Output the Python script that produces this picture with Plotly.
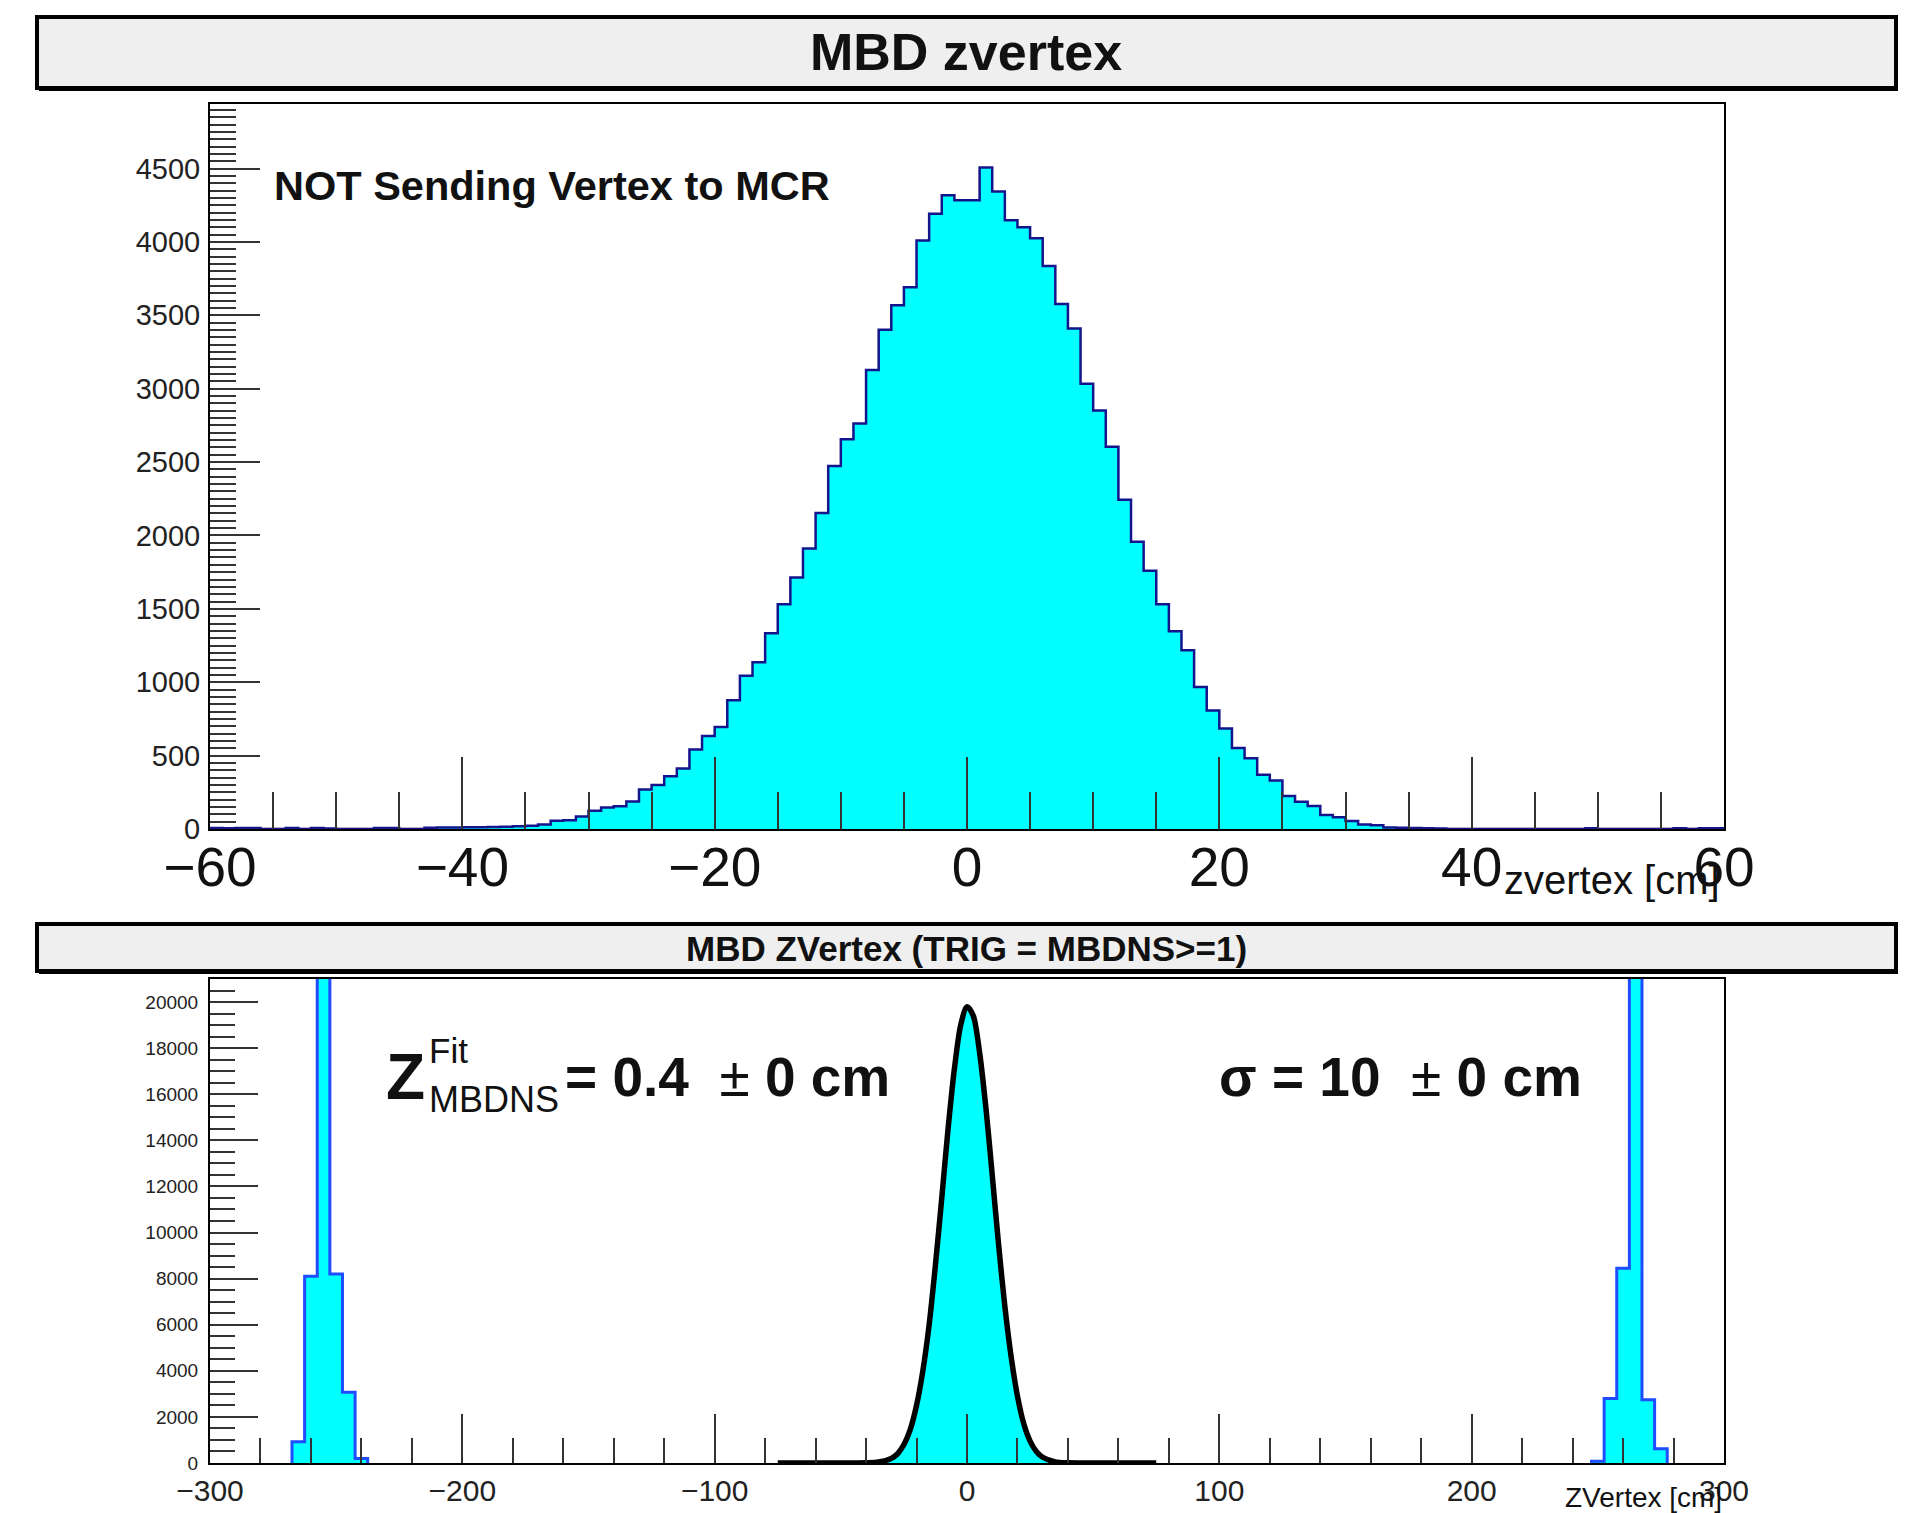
import numpy as np
import plotly.graph_objects as go

W, H = 1911, 1513

# ---------------- data ----------------
# Top panel: "MBD zvertex", 1 cm bins from -60 to 60 (bin low edges)
top_bin_low_edges = list(range(-60, 60))
top_counts = [
    6, 5, 6, 6, 0, 0, 6, 0, 6, 3,                         # -60 .. -51
    0, 0, 0, 6, 6, 0, 0, 8, 10, 10,                       # -50 .. -41
    12, 12, 14, 15, 18, 22, 30, 56, 60, 86,               # -40 .. -31
    125, 146, 155, 187, 269, 299, 360, 412, 542, 634,     # -30 .. -21
    695, 877, 1044, 1136, 1333, 1531, 1713, 1911, 2154, 2474,   # -20 .. -11
    2656, 2763, 3128, 3402, 3569, 3691, 4010, 4192, 4318, 4285, # -10 .. -1
    4285, 4508, 4344, 4148, 4101, 4025, 3836, 3578, 3411, 3033, # 0 .. 9
    2851, 2605, 2243, 1957, 1759, 1531, 1348, 1218, 968, 807,   # 10 .. 19
    685, 552, 482, 369, 330, 225, 185, 157, 96, 80,       # 20 .. 29
    55, 30, 25, 10, 8, 6, 5, 3, 0, 0,                     # 30 .. 39
    0, 0, 0, 0, 0, 0, 0, 0, 0, 5,                         # 40 .. 49
    0, 0, 0, 0, 0, 0, 5, 0, 5, 5,                         # 50 .. 59
]
top_bin_width = 1

# Bottom panel: "MBD ZVertex (TRIG = MBDNS>=1)", side peaks in 5 cm bins
bot_bin_width = 5
bot_left_centers = [-265, -260, -255, -250, -245, -240]
bot_left_counts = [920, 8100, 30000, 8200, 3070, 200]
bot_right_centers = [250, 255, 260, 265, 270, 275]
bot_right_counts = [80, 2800, 8450, 30000, 2740, 620]

# central peak (filled) and its Gaussian fit curve
fit_x = [-75, -60, -45, -40, -35, -30, -27.5, -25, -22.5, -20, -17.5, -15, -12.5, -10,
         -7.5, -5, -2.5, 0, 2.5, 5, 7.5, 10, 12.5, 15, 17.5, 20, 22.5, 25, 27.5,
         30, 35, 40, 45, 60, 75]
fit_y = [0, 0, 1, 6, 40, 200, 400, 800, 1450, 2500, 4000, 6000, 8600, 11500,
         14500, 17100, 19000, 19800, 19400, 17800, 15400, 12500, 9500, 6800, 4600,
         2900, 1700, 950, 500, 250, 50, 8, 1, 0, 0]

# ---------------- geometry helpers ----------------
def px_x(p):
    return p / W

def px_y(p):
    return 1 - p / H

FONT = "Liberation Sans, Arial, Helvetica, sans-serif"

fig = go.Figure()

# top histogram (step outline + fill)
t_edges = top_bin_low_edges + [top_bin_low_edges[-1] + top_bin_width]
t_vals = top_counts + [top_counts[-1]]
fig.add_trace(go.Scatter(
    x=t_edges, y=t_vals, mode="lines",
    line=dict(shape="hv", color="#14148c", width=2.5),
    fill="tozeroy", fillcolor="#00ffff",
    xaxis="x", yaxis="y", hoverinfo="skip", showlegend=False))

# bottom histogram side peaks (closed step outlines)
for cs, vs in ((bot_left_centers, bot_left_counts),
               (bot_right_centers, bot_right_counts)):
    c = np.array(cs, dtype=float)
    edges = list(c - bot_bin_width / 2) + [c[-1] + bot_bin_width / 2]
    xs = [edges[0]] + edges
    ys = [0] + list(vs) + [0]
    fig.add_trace(go.Scatter(
        x=xs, y=ys, mode="lines",
        line=dict(shape="hv", color="#1f4cff", width=3),
        fill="tozeroy", fillcolor="#00ffff",
        xaxis="x2", yaxis="y2", hoverinfo="skip", showlegend=False))

# central peak: filled, with the thick black fit curve on top
fig.add_trace(go.Scatter(
    x=fit_x, y=fit_y, mode="lines",
    line=dict(color="black", width=5.5, shape="spline", smoothing=0.8),
    fill="tozeroy", fillcolor="#00ffff",
    xaxis="x2", yaxis="y2", hoverinfo="skip", showlegend=False))

xdom = [px_x(210), px_x(1724)]
tick_col = "#333333"

common = dict(showgrid=False, zeroline=False, showline=True, linecolor="black",
              linewidth=2, mirror=True, ticks="inside", tickwidth=2, tickcolor=tick_col,
              automargin=False)

fig.update_layout(
    template="none",
    width=W, height=H, autosize=False,
    margin=dict(l=0, r=0, t=0, b=0, pad=0),
    paper_bgcolor="white", plot_bgcolor="white",
    font=dict(family=FONT, color="#111111"),
    showlegend=False,
    xaxis=dict(domain=xdom, anchor="y", range=[-60, 60], tickmode="linear", tick0=-60, dtick=20,
               ticklen=72, tickfont=dict(size=55, color="#111"), ticklabelstandoff=-11,
               minor=dict(dtick=5, tick0=0, ticklen=37, tickwidth=2, tickcolor=tick_col,
                          ticks="inside", showgrid=False), **common),
    yaxis=dict(domain=[px_y(829), px_y(104)], anchor="x", range=[0, 4940],
               tickmode="linear", tick0=0, dtick=500, ticklen=50, tickformat="d",
               tickfont=dict(size=29, color="#222"), ticklabelstandoff=2,
               minor=dict(dtick=50, tick0=0, ticklen=26, tickwidth=2, tickcolor=tick_col,
                          ticks="inside", showgrid=False), **common),
    xaxis2=dict(domain=xdom, anchor="y2", range=[-300, 300], tickmode="linear", tick0=-300, dtick=100,
                ticklen=49, tickfont=dict(size=30, color="#222"),
                minor=dict(dtick=20, tick0=0, ticklen=25, tickwidth=2, tickcolor=tick_col,
                           ticks="inside", showgrid=False), **common),
    yaxis2=dict(domain=[px_y(1463), px_y(979)], anchor="x2", range=[0, 21000],
                tickmode="linear", tick0=0, dtick=2000, ticklen=48, tickformat="d",
                tickfont=dict(size=19, color="#222"), ticklabelstandoff=6,
                minor=dict(dtick=500, tick0=0, ticklen=25, tickwidth=2, tickcolor=tick_col,
                           ticks="inside", showgrid=False), **common),
)

shapes = [
    # title box 1
    dict(type="rect", xref="paper", yref="paper", x0=px_x(37), x1=px_x(1896),
         y0=px_y(88), y1=px_y(17), fillcolor="#efefef", line=dict(color="black", width=4), layer="below"),
    dict(type="line", xref="paper", yref="paper", x0=px_x(39), x1=px_x(1898),
         y0=px_y(89), y1=px_y(89), line=dict(color="black", width=4)),
    # title box 2
    dict(type="rect", xref="paper", yref="paper", x0=px_x(37), x1=px_x(1896),
         y0=px_y(971), y1=px_y(924), fillcolor="#efefef", line=dict(color="black", width=4), layer="below"),
    dict(type="line", xref="paper", yref="paper", x0=px_x(39), x1=px_x(1898),
         y0=px_y(972), y1=px_y(972), line=dict(color="black", width=4)),
    # faint pink line under the top histogram
    dict(type="line", xref="x", yref="y", x0=-60, x1=60, y0=0, y1=0,
         ysizemode="pixel", yanchor=0, line=dict(color="#ffb8c4", width=3), layer="below"),
]
fig.update_layout(shapes=shapes)

ann = []
def text(x, y, s, size, xanchor="left", yanchor="middle", bold=False, color="#111"):
    ann.append(dict(xref="paper", yref="paper", x=px_x(x), y=px_y(y), text=(f"<b>{s}</b>" if bold else s),
                    showarrow=False, xanchor=xanchor, yanchor=yanchor,
                    font=dict(size=size, family=FONT, color=color)))

text(966, 52, "MBD zvertex", 52, xanchor="center", bold=True)
text(966, 948, "MBD ZVertex (TRIG = MBDNS&gt;=1)", 35, xanchor="center", bold=True)
text(272, 185, "NOT Sending Vertex to MCR", 41.5, bold=True)
text(1722, 880, "zvertex [cm]", 40, xanchor="right")
text(1724, 1497, "ZVertex [cm]", 28, xanchor="right")

# fit result texts
text(384, 1077, "Z", 64, bold=True)
text(427, 1050, "Fit", 35)
text(427, 1099, "MBDNS", 36)
text(563, 1077, "<b>= 0.4</b>&nbsp; ± <b>0 cm</b>", 55)
text(1217, 1077, "<b>σ = 10</b>&nbsp; ± <b>0 cm</b>", 55)

fig.update_layout(annotations=ann)

fig.write_html("out.html")
